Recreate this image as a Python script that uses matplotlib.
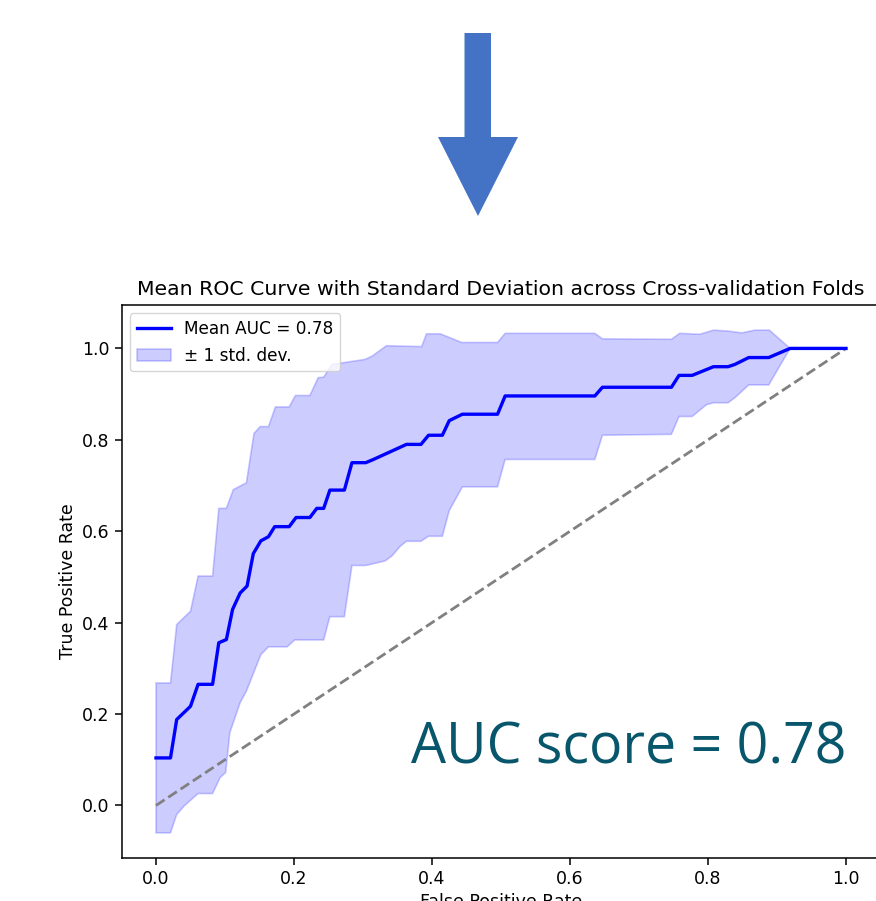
from matplotlib import pyplot as plt
from matplotlib.patches import Polygon
import numpy as np

# mean ROC curve (vertices)
mean_fpr = [0.0, 0.021, 0.030, 0.050, 0.061, 0.082, 0.091, 0.102, 0.111, 0.122,
            0.132, 0.141, 0.152, 0.163, 0.172, 0.193, 0.203, 0.223, 0.233, 0.243,
            0.252, 0.273, 0.284, 0.304, 0.315, 0.363, 0.384, 0.395, 0.415, 0.425,
            0.444, 0.495, 0.506, 0.636, 0.647, 0.747, 0.758, 0.777, 0.808, 0.829,
            0.839, 0.859, 0.888, 0.919, 1.0]
mean_tpr = [0.104, 0.104, 0.188, 0.217, 0.265, 0.265, 0.356, 0.363, 0.429, 0.465,
            0.480, 0.551, 0.579, 0.588, 0.610, 0.610, 0.630, 0.630, 0.650, 0.650,
            0.690, 0.690, 0.750, 0.750, 0.757, 0.790, 0.790, 0.810, 0.810, 0.842,
            0.856, 0.856, 0.896, 0.896, 0.915, 0.915, 0.941, 0.941, 0.960, 0.960,
            0.965, 0.980, 0.980, 1.0, 1.0]

# mean + 1 std
upper_fpr = [0.0, 0.021, 0.030, 0.050, 0.061, 0.082, 0.091, 0.102, 0.112, 0.131,
             0.142, 0.151, 0.163, 0.173, 0.193, 0.202, 0.223, 0.235, 0.243, 0.255,
             0.303, 0.313, 0.334, 0.385, 0.392, 0.412, 0.443, 0.495, 0.506, 0.636,
             0.647, 0.747, 0.759, 0.788, 0.808, 0.829, 0.849, 0.868, 0.889, 0.907,
             0.919, 1.0]
upper_tpr = [0.268, 0.268, 0.396, 0.425, 0.502, 0.502, 0.650, 0.650, 0.691, 0.706,
             0.814, 0.829, 0.829, 0.872, 0.872, 0.897, 0.897, 0.936, 0.937, 0.965,
             0.976, 0.983, 1.006, 1.004, 1.032, 1.032, 1.013, 1.013, 1.033, 1.033,
             1.021, 1.020, 1.033, 1.031, 1.040, 1.038, 1.034, 1.040, 1.040, 1.016,
             1.0, 1.0]

# mean - 1 std
lower_fpr = [0.0, 0.021, 0.030, 0.041, 0.061, 0.082, 0.093, 0.101, 0.107, 0.122,
             0.131, 0.152, 0.163, 0.190, 0.201, 0.243, 0.252, 0.273, 0.284, 0.304,
             0.332, 0.342, 0.354, 0.363, 0.384, 0.395, 0.415, 0.425, 0.444, 0.495,
             0.506, 0.636, 0.647, 0.747, 0.758, 0.777, 0.798, 0.808, 0.829, 0.839,
             0.859, 0.888, 0.919, 1.0]
lower_tpr = [-0.060, -0.060, -0.020, -0.001, 0.026, 0.026, 0.061, 0.072, 0.159, 0.225,
             0.250, 0.330, 0.347, 0.347, 0.362, 0.362, 0.413, 0.413, 0.525, 0.525,
             0.535, 0.546, 0.567, 0.578, 0.578, 0.589, 0.589, 0.645, 0.697, 0.697,
             0.757, 0.757, 0.810, 0.812, 0.851, 0.851, 0.877, 0.881, 0.881, 0.892,
             0.920, 0.920, 1.0, 1.0]

mean_auc = 0.78

fig = plt.figure(figsize=(8.76, 9.01), dpi=100)

# blue arrow pointing down at the chart (pixel coords, origin top-left)
arrow_px = [(464.5, 33), (491, 33), (491, 137), (518, 137), (478, 216),
            (438, 137), (464.5, 137)]
arrow = Polygon([(x / 876, 1 - y / 901) for x, y in arrow_px], closed=True,
                transform=fig.transFigure, facecolor='#4472C4', edgecolor='none')
fig.patches.append(arrow)

ax = fig.add_axes([121.5 / 876, 43 / 901, 759 / 876, 553 / 901])

ax.plot([0, 1], [0, 1], linestyle='--', lw=2, color='gray')
ax.plot(mean_fpr, mean_tpr, color='blue', lw=2.4,
        label=f'Mean AUC = {mean_auc:.2f}')
band_x = np.concatenate([upper_fpr, lower_fpr[::-1]])
band_y = np.concatenate([upper_tpr, lower_tpr[::-1]])
ax.fill(band_x, band_y, color='blue', alpha=0.2, lw=1.2, label='± 1 std. dev.')

ax.set_title('Mean ROC Curve with Standard Deviation across Cross-validation Folds',
             fontsize=14.7, pad=7)
ax.set_xlabel('False Positive Rate', fontsize=12.5)
ax.set_ylabel('True Positive Rate', fontsize=12.5)
ax.tick_params(labelsize=12.5, length=5, width=1.1)
for s in ax.spines.values():
    s.set_linewidth(1.1)
ax.legend(loc='upper left', fontsize=12.2)

ax.text(1.0, 0.092, 'AUC score = 0.78', transform=ax.transData,
        fontsize=40, color='#08566B', family='Open Sans', ha='right', va='baseline')

fig.savefig('out.png', dpi=100)
